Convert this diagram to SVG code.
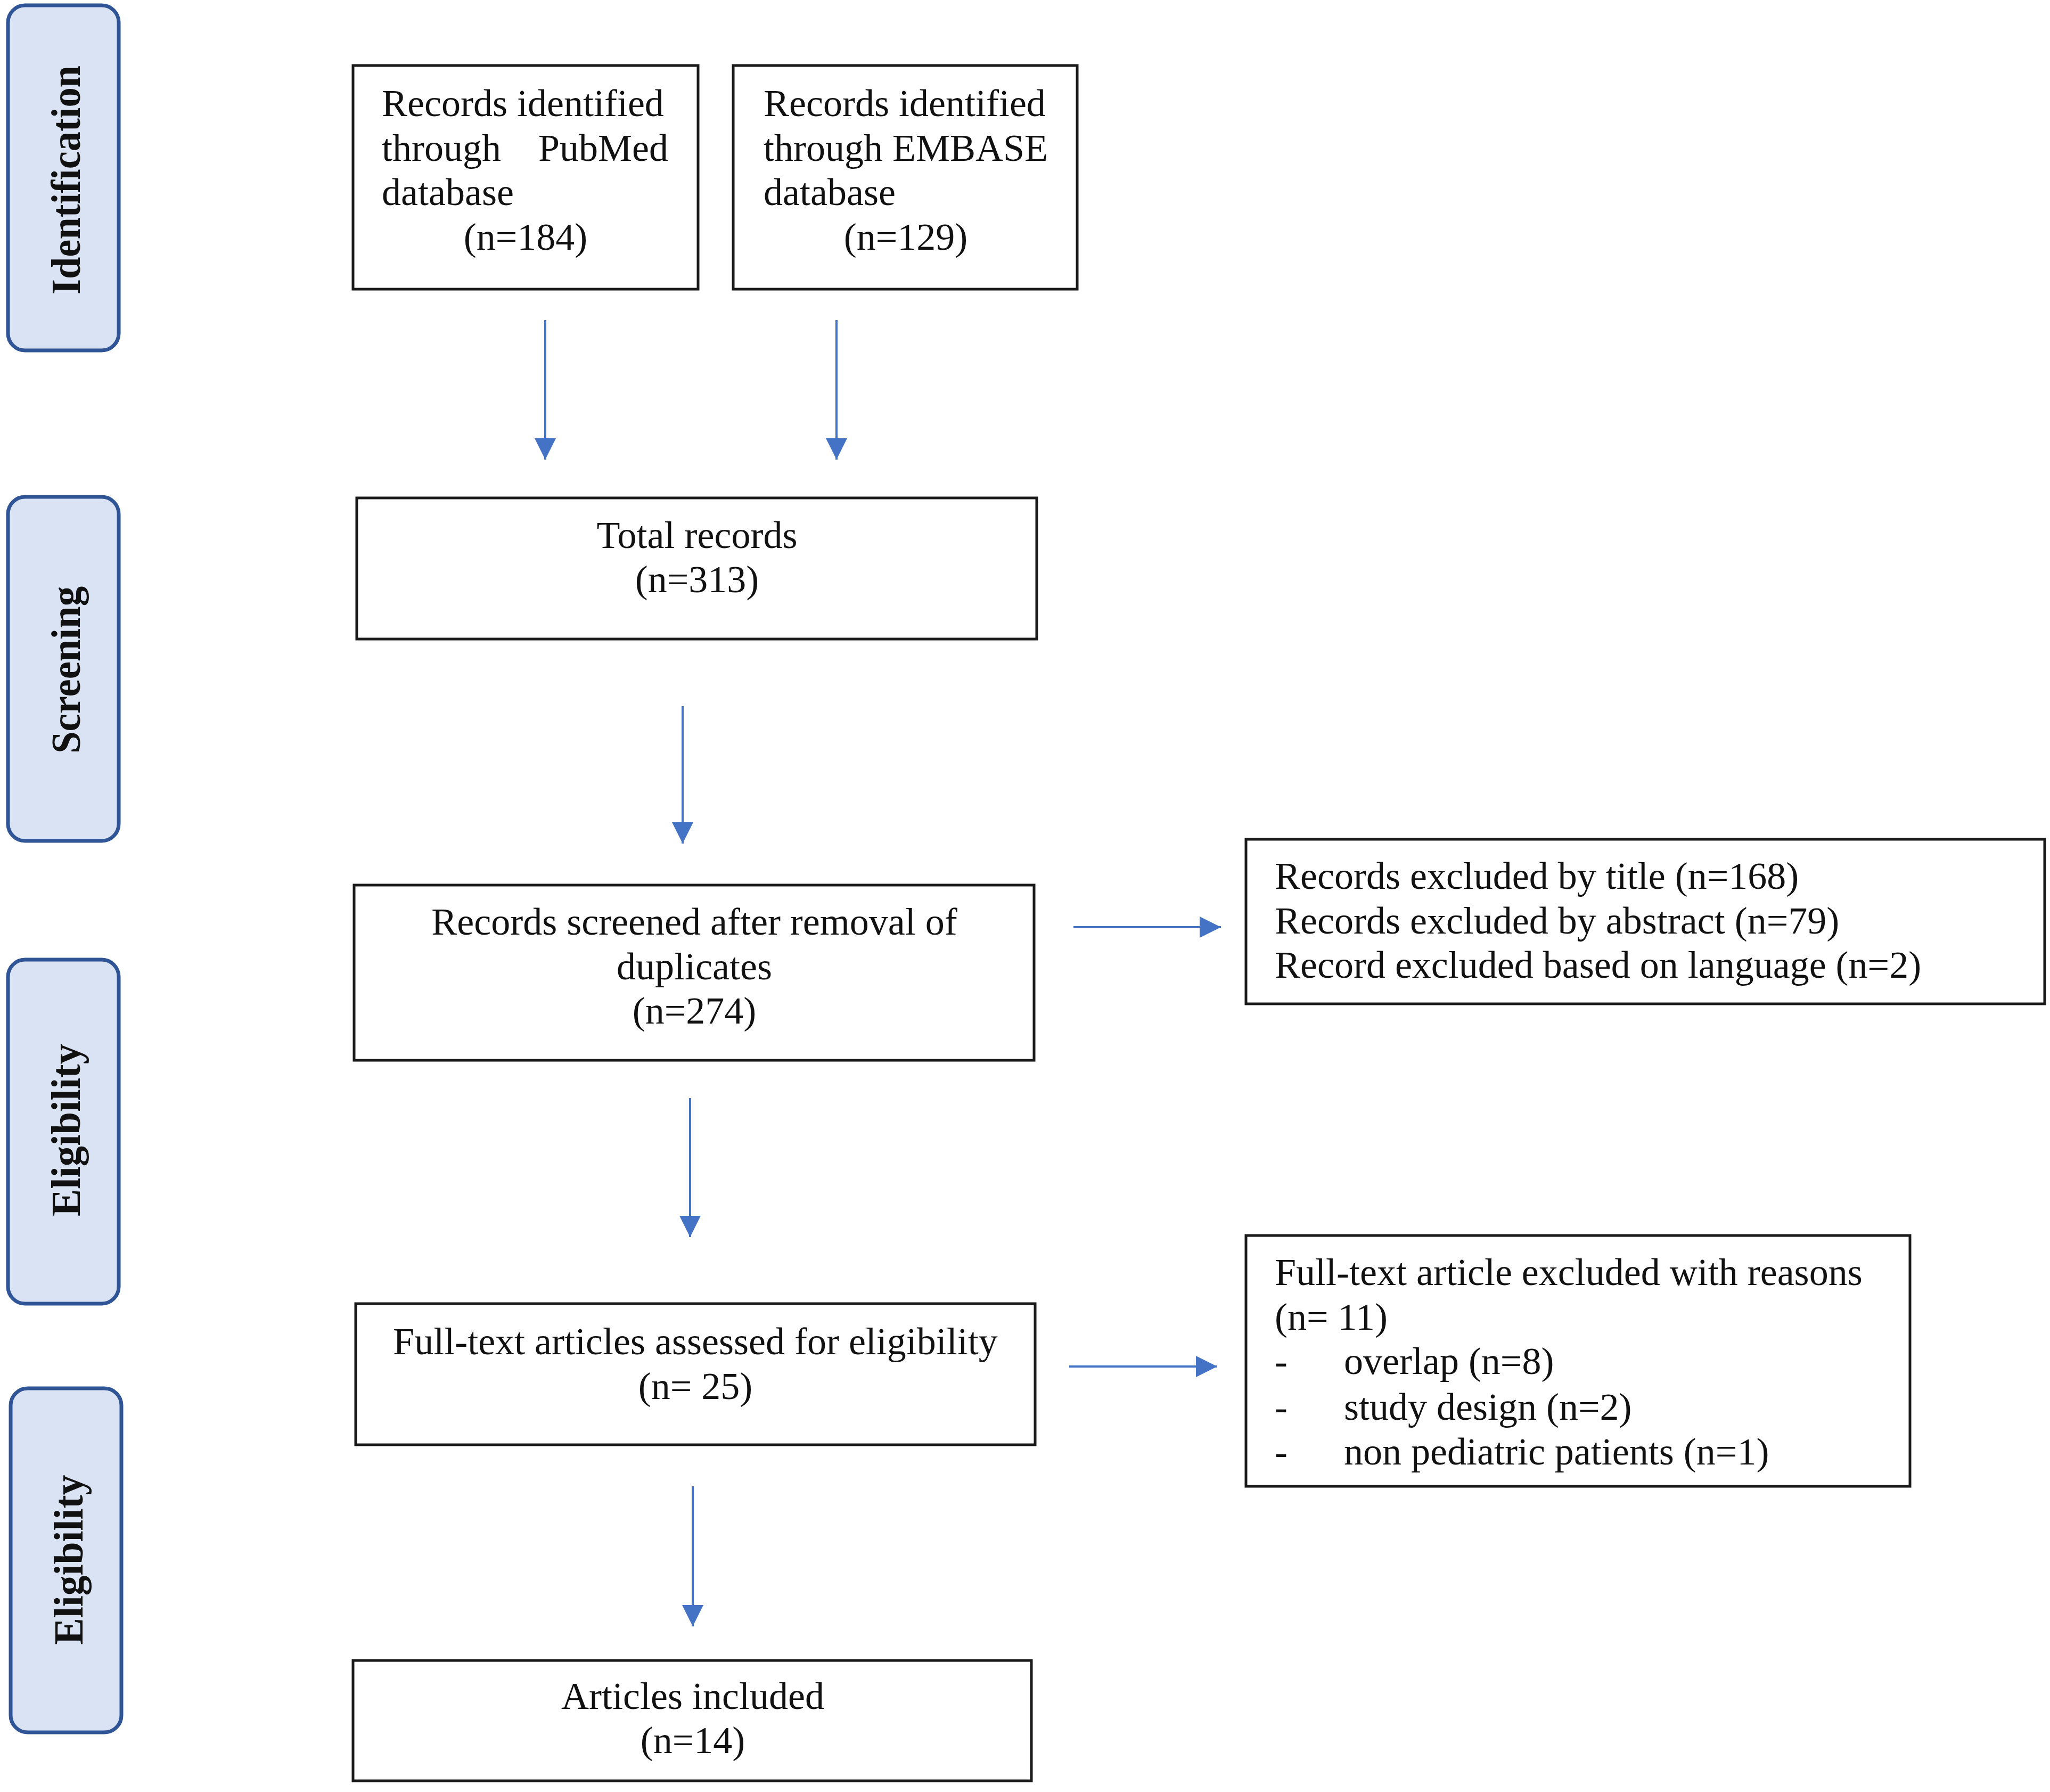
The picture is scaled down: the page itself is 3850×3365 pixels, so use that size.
<svg xmlns="http://www.w3.org/2000/svg" width="3850" height="3365" viewBox="0 0 3850 3365">
<style>
.bg{fill:#ffffff}
.box{fill:#ffffff;stroke:#1a1a1a;stroke-width:5}
.side{fill:#dae3f3;stroke:#2f5597;stroke-width:7}
.t{font-family:"Liberation Serif","Times New Roman",serif;font-size:72px;fill:#111111}
.c{text-anchor:middle}
.e{text-anchor:end}
.lab{font-family:"Liberation Serif","Times New Roman",serif;font-size:78px;font-weight:bold;fill:#111111;text-anchor:middle}
.arr{stroke:#4472c4;stroke-width:4;fill:none;marker-end:url(#ah)}
</style>
<defs>
<marker id="ah" viewBox="0 0 40 40" refX="40" refY="20" markerWidth="40" markerHeight="40" markerUnits="userSpaceOnUse" orient="auto">
<path d="M0,0 L40,20 L0,40 Z" fill="#4472c4"/>
</marker>
</defs>
<rect class="bg" x="0" y="0" width="3850" height="3365"/>

<g id="stage-identification">
<rect class="side" x="15" y="10" width="208" height="648" rx="32"/>
<text class="lab" transform="translate(150,338) rotate(-90)" textLength="430" lengthAdjust="spacingAndGlyphs">Identification</text>
</g>
<g id="stage-screening">
<rect class="side" x="15" y="933" width="208" height="646" rx="32"/>
<text class="lab" transform="translate(150,1258) rotate(-90)" textLength="314" lengthAdjust="spacingAndGlyphs">Screening</text>
</g>
<g id="stage-eligibility">
<rect class="side" x="15" y="1802" width="208" height="646" rx="32"/>
<text class="lab" transform="translate(150,2122) rotate(-90)" textLength="324" lengthAdjust="spacingAndGlyphs">Eligibility</text>
</g>
<g id="stage-eligibility-2">
<rect class="side" x="20" y="2607" width="208" height="646" rx="32"/>
<text class="lab" transform="translate(155,2929) rotate(-90)" textLength="319" lengthAdjust="spacingAndGlyphs">Eligibility</text>
</g>

<g id="node-pubmed">
<rect class="box" x="663" y="123" width="648" height="420"/>
<text class="t" x="717" y="218">Records identified</text>
<text class="t" x="717" y="302">through</text>
<text class="t e" x="1255" y="302">PubMed</text>
<text class="t" x="717" y="385">database</text>
<text class="t c" x="987" y="469">(n=184)</text>
</g>

<g id="node-embase">
<rect class="box" x="1377" y="123" width="646" height="420"/>
<text class="t" x="1434" y="218">Records identified</text>
<text class="t" x="1434" y="302">through EMBASE</text>
<text class="t" x="1434" y="385">database</text>
<text class="t c" x="1701" y="469">(n=129)</text>
</g>

<g id="node-total">
<rect class="box" x="670" y="935" width="1277" height="265"/>
<text class="t c" x="1309" y="1029">Total records</text>
<text class="t c" x="1309" y="1112">(n=313)</text>
</g>

<g id="node-screened">
<rect class="box" x="665" y="1662" width="1277" height="329"/>
<text class="t c" x="1304" y="1755">Records screened after removal of</text>
<text class="t c" x="1304" y="1839">duplicates</text>
<text class="t c" x="1304" y="1922">(n=274)</text>
</g>

<g id="node-excluded-1">
<rect class="box" x="2340" y="1576" width="1500" height="309"/>
<text class="t" x="2394" y="1669">Records excluded by title (n=168)</text>
<text class="t" x="2394" y="1753">Records excluded by abstract (n=79)</text>
<text class="t" x="2394" y="1836">Record excluded based on language (n=2)</text>
</g>

<g id="node-fulltext">
<rect class="box" x="668" y="2448" width="1276" height="265"/>
<text class="t c" x="1306" y="2543">Full-text articles assessed for eligibility</text>
<text class="t c" x="1306" y="2627">(n= 25)</text>
</g>

<g id="node-excluded-2">
<rect class="box" x="2340" y="2320" width="1247" height="471"/>
<text class="t" x="2394" y="2413">Full-text article excluded with reasons</text>
<text class="t" x="2394" y="2497">(n= 11)</text>
<text class="t" x="2394" y="2580">-</text>
<text class="t" x="2524" y="2580">overlap (n=8)</text>
<text class="t" x="2394" y="2666">-</text>
<text class="t" x="2524" y="2666">study design (n=2)</text>
<text class="t" x="2394" y="2750">-</text>
<text class="t" x="2524" y="2750">non pediatric patients (n=1)</text>
</g>

<g id="node-included">
<rect class="box" x="663" y="3118" width="1274" height="226"/>
<text class="t c" x="1301" y="3209">Articles included</text>
<text class="t c" x="1301" y="3292">(n=14)</text>
</g>

<g id="connectors">
<line class="arr" x1="1024" y1="601" x2="1024" y2="863"/>
<line class="arr" x1="1571" y1="601" x2="1571" y2="863"/>
<line class="arr" x1="1282" y1="1326" x2="1282" y2="1584"/>
<line class="arr" x1="1296" y1="2062" x2="1296" y2="2323"/>
<line class="arr" x1="1301" y1="2791" x2="1301" y2="3054"/>
<line class="arr" x1="2016" y1="1741" x2="2293" y2="1741"/>
<line class="arr" x1="2008" y1="2566" x2="2286" y2="2566"/>
</g>
</svg>
